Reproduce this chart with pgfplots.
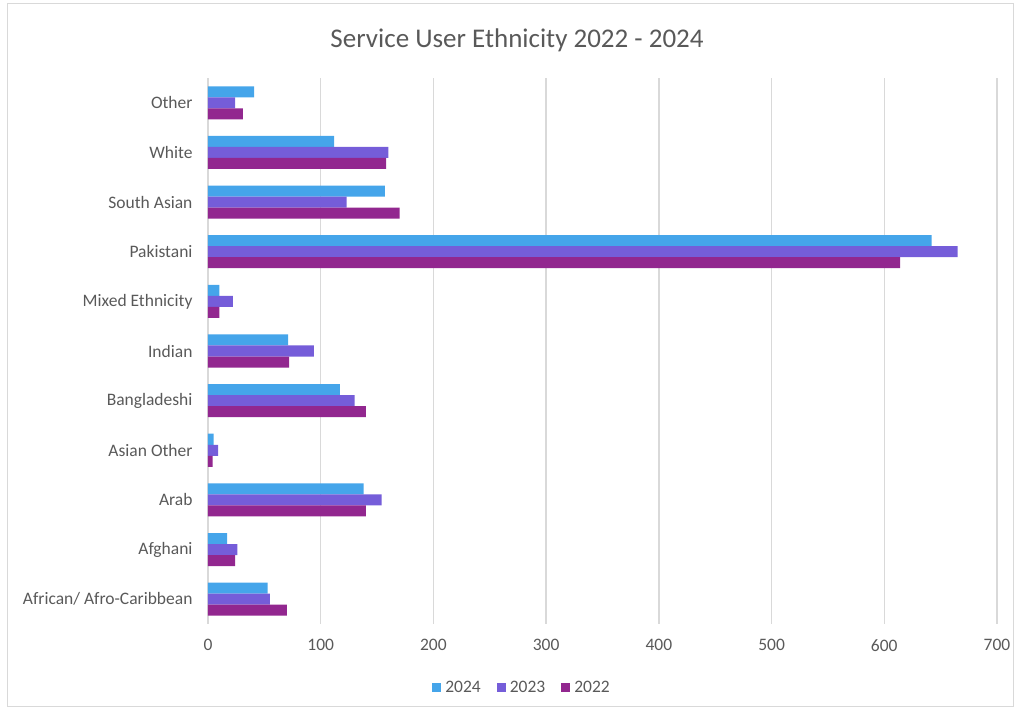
\documentclass[border=0pt]{standalone}
\usepackage{fontspec}
\setmainfont{Carlito}
\usepackage{pgfplots}
\pgfplotsset{compat=1.18}
\definecolor{c24}{HTML}{45A5EA}
\definecolor{c23}{HTML}{755DD9}
\definecolor{c22}{HTML}{92278F}
\definecolor{gridc}{HTML}{D9D9D9}
\definecolor{txt}{HTML}{595959}
\begin{document}
\begin{tikzpicture}[x=1pt,y=1pt]
\path (0,0) rectangle (1020,711);
\draw[gridc,line width=1pt] (7,4) rectangle (1013,707);
\node[txt,font=\fontsize{27}{32}\selectfont] at (517,671) {Service User Ethnicity 2022 - 2024};
\begin{axis}[
  at={(208pt,87pt)}, anchor=south west,
  scale only axis, width=789pt, height=546pt,
  xbar, xmin=0, xmax=700, ymin=-0.5, ymax=10.5,
  xtick={0,100,...,700},
  ytick={0,...,10},
  yticklabels={African/ Afro-Caribbean, Afghani, Arab, Asian Other, Bangladeshi, Indian, Mixed Ethnicity, Pakistani, South Asian, White, Other},
  major tick length=0pt,
  axis line style={draw=none},
  xmajorgrids, grid style={gridc,line width=1.5pt},
  tick label style={txt,font=\fontsize{17.5}{21}\selectfont},
  /pgf/number format/assume math mode=true,
  xticklabel style={yshift=-12pt},
  yticklabel style={xshift=-12pt},
  bar width=0.222,
  legend columns=3,
  legend style={at={(0.398,-0.117)}, anchor=center, draw=none, fill=none,
    font=\fontsize{17.5}{21}\selectfont, text=txt,
    /tikz/every even column/.append style={column sep=14pt},
    /tikz/every odd column/.append style={column sep=2pt}},
  legend image code/.code={\fill[#1] (0pt,-4.5pt) rectangle (9pt,4.5pt);},
]
\addplot[fill=c24, draw=none, bar shift=0.222] coordinates {
(53,0) (17,1) (138,2) (5,3) (117,4) (71,5) (10,6) (642,7) (157,8) (112,9) (41,10)};
\addplot[fill=c23, draw=none, bar shift=0] coordinates {
(55,0) (26,1) (154,2) (9,3) (130,4) (94,5) (22,6) (665,7) (123,8) (160,9) (24,10)};
\addplot[fill=c22, draw=none, bar shift=-0.222] coordinates {
(70,0) (24,1) (140,2) (4,3) (140,4) (72,5) (10,6) (614,7) (170,8) (158,9) (31,10)};
\legend{2024,2023,2022}
\end{axis}
\end{tikzpicture}
\end{document}
